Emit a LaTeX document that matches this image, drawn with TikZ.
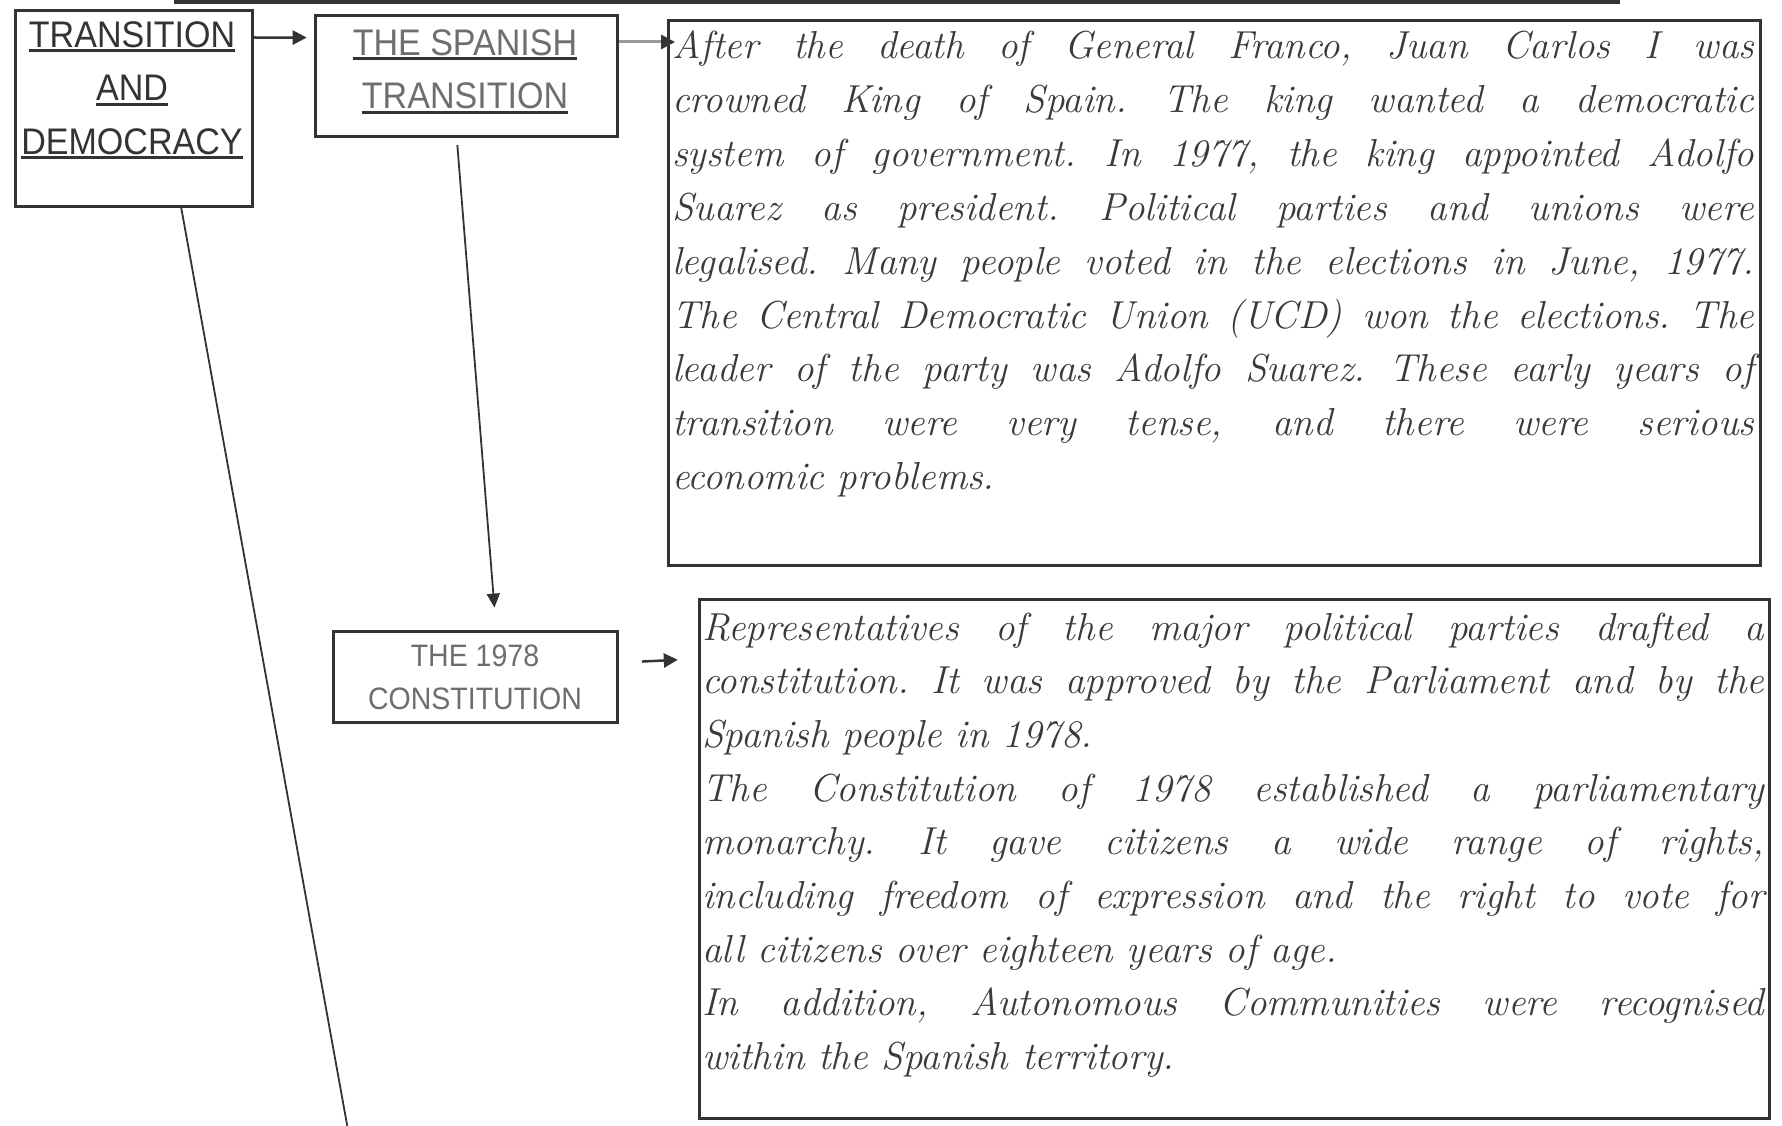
\documentclass[tikz,border=0pt]{standalone}
\usepackage{fontspec}
\usetikzlibrary{arrows.meta,calc}
\newfontfamily\titlefont[FakeStretch=0.92]{Liberation Sans}
\definecolor{ink}{HTML}{333333}
\definecolor{soft}{HTML}{6E6E6E}
\definecolor{bodyink}{HTML}{3A3A3A}
\definecolor{lineink}{HTML}{9A9A9A}
\newcommand\thul[1]{\leavevmode\setbox0\hbox{#1}\rlap{\color{ink}\rule[-5pt]{\wd0}{3pt}}\box0}
\newcommand\jl[2]{\makebox[#1][s]{#2}}
\frenchspacing
\begin{document}
\begin{tikzpicture}[x=1pt,y=-1pt,
  box/.style={draw=ink,line width=3pt,rectangle,inner sep=0pt,anchor=north west},
  titleA/.style={anchor=base,inner sep=0pt,text=ink,font=\titlefont\fontsize{37}{42}\selectfont},
  titleB/.style={anchor=base,inner sep=0pt,text=soft,font=\titlefont\fontsize{37}{42}\selectfont},
  titleD/.style={anchor=base,inner sep=0pt,text=soft,font=\titlefont\fontsize{31}{36}\selectfont},
  bodyline/.style={anchor=base west,inner sep=0pt,text=bodyink,font=\fontsize{39}{44}\selectfont\itshape\frenchspacing},
  arr/.style={draw=ink,line width=2.5pt,-{Triangle[length=14pt,width=14pt]}},
  thin/.style={draw=ink,line width=1.8pt}
]
\useasboundingbox (0,0) rectangle (1782,1126);
\fill[white] (0,0) rectangle (1782,1126);

% top line (edge of a box above)
\coordinate (topL) at (174,2);
\coordinate (topR) at (1620,2);
\draw[ink,line width=4pt] (topL) -- (topR);

% boxes
\node[box,minimum width=237.4pt,minimum height=195.6pt] (A) at (13.6,9) {};
\node[box,minimum width=302.3pt,minimum height=121.6pt] (B) at (313.7,13.6) {};
\node[box,minimum width=1092pt,minimum height=544.4pt] (C1) at (667,19.3) {};
\node[box,minimum width=284.1pt,minimum height=90.9pt] (D) at (331.9,629.6) {};
\node[box,minimum width=1070.6pt,minimum height=519.4pt] (C2) at (697.8,597.8) {};

% titles
\node[titleA] (a1) at (132,47.5) {\thul{TRANSITION}};
\node[titleA] (a2) at (132,101) {\thul{AND}};
\node[titleA] (a3) at (132,154.5) {\thul{DEMOCRACY}};
\node[titleB] (b1) at (465,55.5) {\thul{THE SPANISH}};
\node[titleB] (b2) at (465,109) {\thul{TRANSITION}};
\node[titleD] (d1) at (475,666) {THE 1978};
\node[titleD] (d2) at (475,709) {CONSTITUTION};

% connectors
\draw[arr] ($(A.north east)+(0,28.5)$) -- ($(B.north west)+(-7,24)$);
\draw[draw=lineink,line width=3pt,-{Triangle[length=14pt,width=14pt,color=ink]}]
  ($(B.north east)+(0,28.4)$) -- ($(C1.north west)+(8,22.7)$);
\draw[thin,-{Triangle[length=14pt,width=13pt]}] ($(B.south)+(-9,7)$) -- ($(D.north)+(19,-22)$);
\coordinate (dArrS) at ($(D.east)+(23,-15)$);
\coordinate (dArrE) at ($(C2.north west)+(-20,62)$);
\draw[arr] (dArrS) -- (dArrE);
\coordinate (longEnd) at (348,1130);
\draw[thin] ($(A.south west)+(167.6,0)$) -- (longEnd);

% text box 1
\node[bodyline] (p1) at (672,59) {\jl{1082pt}{After the death of General Franco, Juan Carlos I was}};
\node[bodyline] (p2) at (672,112.8) {\jl{1082pt}{crowned King of Spain. The king wanted a democratic}};
\node[bodyline] (p3) at (672,166.6) {\jl{1082pt}{system of government. In 1977, the king appointed Adolfo}};
\node[bodyline] (p4) at (672,220.4) {\jl{1082pt}{Suarez as president. Political parties and unions were}};
\node[bodyline] (p5) at (672,274.2) {\jl{1082pt}{legalised. Many people voted in the elections in June, 1977.}};
\node[bodyline] (p6) at (672,328) {\jl{1082pt}{The Central Democratic Union (UCD) won the elections. The}};
\node[bodyline] (p7) at (672,381.8) {\jl{1082pt}{leader of the party was Adolfo Suarez. These early years of}};
\node[bodyline] (p8) at (672,435.6) {\jl{1082pt}{transition were very tense, and there were serious}};
\node[bodyline] (p9) at (672,489.4) {economic problems.};

% text box 2
\node[bodyline] (q1) at (702,640) {\jl{1062pt}{Representatives of the major political parties drafted a}};
\node[bodyline] (q2) at (702,693.7) {\jl{1062pt}{constitution. It was approved by the Parliament and by the}};
\node[bodyline] (q3) at (702,747.4) {Spanish people in 1978.};
\node[bodyline] (q4) at (702,801.1) {\jl{1062pt}{The Constitution of 1978 established a parliamentary}};
\node[bodyline] (q5) at (702,854.8) {\jl{1062pt}{monarchy. It gave citizens a wide range of rights,}};
\node[bodyline] (q6) at (702,908.5) {\jl{1062pt}{including freedom of expression and the right to vote for}};
\node[bodyline] (q7) at (702,962.2) {all citizens over eighteen years of age.};
\node[bodyline] (q8) at (702,1015.9) {\jl{1062pt}{In addition, Autonomous Communities were recognised}};
\node[bodyline] (q9) at (702,1069.6) {within the Spanish territory.};
\end{tikzpicture}
\end{document}
